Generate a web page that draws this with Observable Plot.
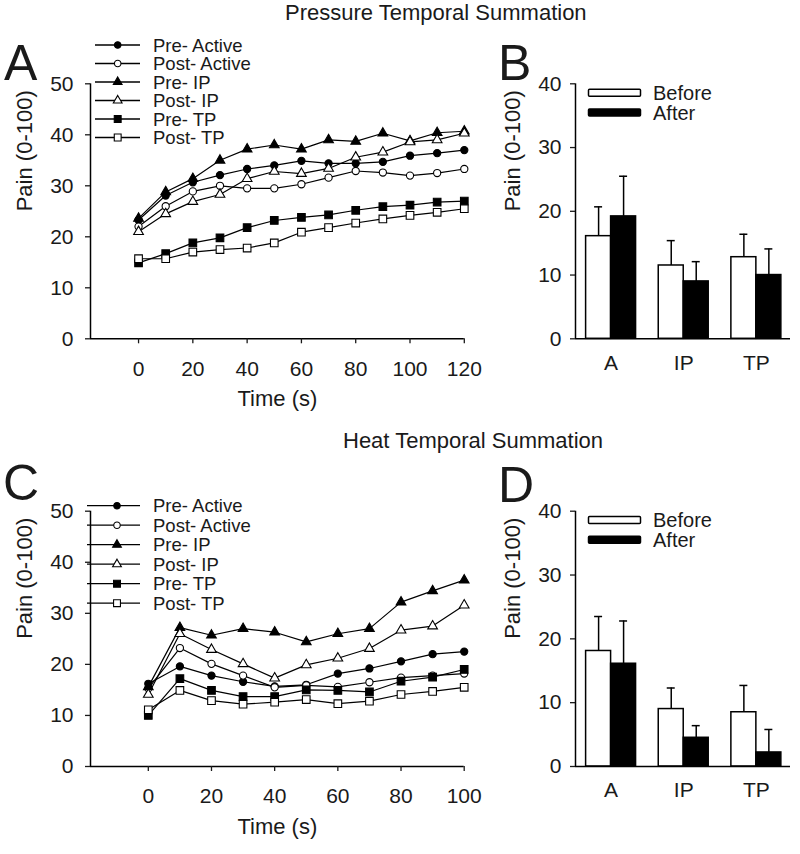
<!DOCTYPE html>
<html>
<head>
<meta charset="utf-8">
<script src="https://cdn.jsdelivr.net/npm/d3@7"></script>
<script src="https://cdn.jsdelivr.net/npm/@observablehq/plot@0.6"></script>
<style>
  html, body { margin: 0; padding: 0; background: #fff; }
  #root { position: relative; width: 800px; height: 854px; overflow: hidden; background: #fff;
          font-family: "Liberation Sans", Arial, Helvetica, sans-serif; }
</style>
</head>
<body>
<div id="root"></div>
<script>
// ---------------- data ----------------
const seriesNames = ["Pre- Active", "Post- Active", "Pre- IP", "Post- IP", "Pre- TP", "Post- TP"];
const seriesSymbols = ["circle", "circle", "triangle", "triangle", "square", "square"];
const seriesFilled = [true, false, true, false, true, false];

// Panel A: pressure temporal summation (0-120 s)
const timePressure = [0, 10, 20, 30, 40, 50, 60, 70, 80, 90, 100, 110, 120];
const pressurePreActive  = [23.3, 28.1, 30.7, 32.1, 33.3, 34.0, 34.9, 34.4, 34.4, 34.7, 35.9, 36.4, 37.0];
const pressurePostActive = [22.0, 26.0, 28.9, 30.0, 29.5, 29.5, 30.3, 31.6, 32.9, 32.6, 32.0, 32.5, 33.3];
const pressurePreIP      = [23.6, 28.8, 31.4, 35.0, 37.2, 38.0, 37.2, 39.0, 38.7, 40.3, 38.8, 40.4, 40.7];
const pressurePostIP     = [21.0, 24.5, 26.9, 28.3, 31.4, 32.8, 32.4, 33.4, 35.6, 36.6, 38.6, 39.0, 40.3];
const pressurePreTP      = [14.9, 16.7, 18.8, 19.8, 21.8, 23.2, 23.8, 24.3, 25.2, 25.9, 26.2, 26.8, 27.0];
const pressurePostTP     = [15.7, 15.7, 17.0, 17.5, 17.8, 18.8, 20.9, 21.8, 22.7, 23.5, 24.2, 24.8, 25.5];

// Panel C: heat temporal summation (0-100 s)
const timeHeat = [0, 10, 20, 30, 40, 50, 60, 70, 80, 90, 100];
const heatPreActive  = [16.2, 19.6, 17.8, 16.6, 15.7, 16.0, 18.2, 19.2, 20.6, 22.0, 22.5];
const heatPostActive = [15.3, 23.2, 20.1, 17.8, 15.5, 15.9, 15.6, 16.5, 17.4, 17.8, 18.2];
const heatPreIP      = [15.6, 27.2, 25.7, 27.0, 26.3, 24.4, 26.0, 27.0, 32.2, 34.4, 36.5];
const heatPostIP     = [14.1, 26.0, 22.9, 20.1, 17.3, 19.9, 21.2, 23.1, 26.7, 27.5, 31.6];
const heatPreTP      = [10.0, 17.2, 14.9, 13.7, 13.7, 15.0, 14.9, 14.6, 16.7, 17.5, 19.0];
const heatPostTP     = [11.1, 14.9, 12.9, 12.2, 12.6, 13.1, 12.3, 12.8, 14.1, 14.7, 15.5];

// Tick labels
const pressureTimeTicks = [0, 20, 40, 60, 80, 100, 120];
const heatTimeTicks = [0, 20, 40, 60, 80, 100];
const painTicksLine = [0, 10, 20, 30, 40, 50];
const painTicksBar = [0, 10, 20, 30, 40];

// Panels B and D: bars (mean, error)
const barCategories = ["A", "IP", "TP"];
const barLegend = ["Before", "After"];
const pressureBefore    = [16.1, 11.5, 12.8];
const pressureBeforeErr = [4.6, 3.9, 3.6];
const pressureAfter     = [19.2, 9.0, 10.0];
const pressureAfterErr  = [6.3, 3.1, 4.1];
const heatBefore    = [18.1, 9.0, 8.5];
const heatBeforeErr = [5.4, 3.3, 4.2];
const heatAfter     = [16.1, 4.5, 2.2];
const heatAfterErr  = [6.7, 1.9, 3.6];

// ---------------- layout helpers ----------------
const FONT = '"Liberation Sans", Arial, Helvetica, sans-serif';
const INK = "#1a1a1a";
const root = document.getElementById("root");
const symbolRadius = {circle: 3.6, triangle: 3.6, square: 4.3};
const baseStyle = {fontFamily: FONT, fontSize: "21px", color: INK, background: "transparent", overflow: "visible"};

function place(el, left, top) {
  el.style.position = "absolute";
  el.style.left = left + "px";
  el.style.top = top + "px";
  root.appendChild(el);
}

function linePanel(cfg) {
  const {time, values, xMin, xMax, xTicks, left, top, width, height, mTop, mBottom, mLeft, mRight} = cfg;
  const rows = values.flatMap((vals, s) => vals.map((v, i) => ({s, t: time[i], v})));
  const marks = [
    Plot.ruleY([0], {stroke: "#000", strokeWidth: 1.5}),
    Plot.ruleX([xMin], {stroke: "#000", strokeWidth: 1.5}),
    Plot.axisY({ticks: painTicksLine, tickSize: 5, tickPadding: 12, label: null, strokeWidth: 1.3}),
    Plot.axisX({ticks: xTicks, tickSize: 5, tickPadding: 17, label: null, strokeWidth: 1.3}),
    Plot.text(["Time (s)"], {text: d => d, frameAnchor: "bottom", dy: 67, fontSize: 22}),
    Plot.text(["Pain (0-100)"], {text: d => d, frameAnchor: "left", dx: -66, rotate: -90, fontSize: 22})
  ];
  values.forEach((_, s) => marks.push(
    Plot.line(rows.filter(r => r.s === s), {x: "t", y: "v", stroke: "#000", strokeWidth: 1.2})
  ));
  values.forEach((_, s) => marks.push(
    Plot.dot(rows.filter(r => r.s === s), {
      x: "t", y: "v", symbol: seriesSymbols[s], r: symbolRadius[seriesSymbols[s]],
      fill: seriesFilled[s] ? "#000" : "#fff", stroke: "#000", strokeWidth: 1.1
    })
  ));
  const svg = Plot.plot({
    width, height, marginTop: mTop, marginBottom: mBottom, marginLeft: mLeft, marginRight: mRight,
    x: {domain: [xMin, xMax]},
    y: {domain: [0, 50]},
    style: baseStyle,
    marks
  });
  place(svg, left, top);
}

function barPanel(cfg) {
  const {before, beforeErr, after, afterErr, left, top, width, height, mTop, mBottom, mLeft, mRight} = cfg;
  const rows = barCategories.map((c, i) => ({
    i, c,
    before: before[i], beforeTop: before[i] + beforeErr[i],
    after: after[i], afterTop: after[i] + afterErr[i]
  }));
  const bw = 0.344, cap = 0.055, xMin = -0.49, xMax = 2.47;
  const svg = Plot.plot({
    width, height, marginTop: mTop, marginBottom: mBottom, marginLeft: mLeft, marginRight: mRight,
    x: {domain: [xMin, xMax]},
    y: {domain: [0, 40]},
    style: baseStyle,
    marks: [
      Plot.rect(rows, {x1: d => d.i - bw, x2: d => d.i, y1: 0, y2: "before", fill: "#fff", stroke: "#000", strokeWidth: 1.5}),
      Plot.rect(rows, {x1: d => d.i, x2: d => d.i + bw, y1: 0, y2: "after", fill: "#000", stroke: "#000", strokeWidth: 1.5}),
      Plot.ruleX(rows, {x: d => d.i - bw / 2, y1: "before", y2: "beforeTop", stroke: "#000", strokeWidth: 1.5}),
      Plot.ruleY(rows, {y: "beforeTop", x1: d => d.i - bw / 2 - cap, x2: d => d.i - bw / 2 + cap, stroke: "#000", strokeWidth: 1.5}),
      Plot.ruleX(rows, {x: d => d.i + bw / 2, y1: "after", y2: "afterTop", stroke: "#000", strokeWidth: 1.5}),
      Plot.ruleY(rows, {y: "afterTop", x1: d => d.i + bw / 2 - cap, x2: d => d.i + bw / 2 + cap, stroke: "#000", strokeWidth: 1.5}),
      Plot.ruleY([0], {stroke: "#000", strokeWidth: 1.5}),
      Plot.ruleX([xMin], {stroke: "#000", strokeWidth: 1.5}),
      Plot.axisY({ticks: painTicksBar, tickSize: 5, tickPadding: 9, label: null, strokeWidth: 1.3}),
      Plot.axisX({ticks: barCategories.map((_, i) => i), tickFormat: i => barCategories[i], tickSize: 0, tickPadding: 16, label: null}),
      Plot.text(["Pain (0-100)"], {text: d => d, frameAnchor: "left", dx: -63, rotate: -90, fontSize: 22})
    ]
  });
  place(svg, left, top);
}

// ---------------- panels ----------------
linePanel({
  time: timePressure,
  values: [pressurePreActive, pressurePostActive, pressurePreIP, pressurePostIP, pressurePreTP, pressurePostTP],
  xMin: -17.7, xMax: 120, xTicks: pressureTimeTicks,
  left: 0, top: 0, width: 480, height: 420, mTop: 83.3, mBottom: 81.7, mLeft: 90, mRight: 16.2
});
barPanel({
  before: pressureBefore, beforeErr: pressureBeforeErr, after: pressureAfter, afterErr: pressureAfterErr,
  left: 480, top: 0, width: 320, height: 420, mTop: 83.3, mBottom: 81.7, mLeft: 95, mRight: 10
});
linePanel({
  time: timeHeat,
  values: [heatPreActive, heatPostActive, heatPreIP, heatPostIP, heatPreTP, heatPostTP],
  xMin: -18.3, xMax: 100, xTicks: heatTimeTicks,
  left: 0, top: 430, width: 480, height: 424, mTop: 80.7, mBottom: 88, mLeft: 90, mRight: 16.3
});
barPanel({
  before: heatBefore, beforeErr: heatBeforeErr, after: heatAfter, afterErr: heatAfterErr,
  left: 480, top: 430, width: 320, height: 424, mTop: 80.7, mBottom: 88, mLeft: 95, mRight: 10
});

// ---------------- overlay: titles, panel letters, legends ----------------
const overlay = d3.select(root).append("svg")
  .attr("width", 800).attr("height", 854)
  .style("position", "absolute").style("left", "0px").style("top", "0px")
  .style("pointer-events", "none")
  .attr("font-family", FONT).attr("fill", INK);

overlay.append("text").attr("x", 285).attr("y", 20).attr("font-size", 22).text("Pressure Temporal Summation");
overlay.append("text").attr("x", 343).attr("y", 448).attr("font-size", 22).text("Heat Temporal Summation");

[["A", 4, 80], ["B", 498, 80], ["C", 3, 500], ["D", 498, 502]].forEach(([t, x, y]) => {
  overlay.append("text").attr("x", x).attr("y", y).attr("font-size", 50).text(t);
});

const d3Sym = {circle: d3.symbolCircle, triangle: d3.symbolTriangle, square: d3.symbolSquare};
function lineLegend(x0, x1, xm, xt, y0, dy) {
  const g = overlay.append("g");
  seriesNames.forEach((name, i) => {
    const y = y0 + i * dy;
    g.append("line").attr("x1", x0).attr("x2", x1).attr("y1", y).attr("y2", y)
      .attr("stroke", "#000").attr("stroke-width", 1.3);
    const r = symbolRadius[seriesSymbols[i]] * 0.9;
    g.append("path").attr("d", d3.symbol(d3Sym[seriesSymbols[i]], Math.PI * r * r)())
      .attr("transform", `translate(${xm},${y})`)
      .attr("fill", seriesFilled[i] ? "#000" : "#fff").attr("stroke", "#000").attr("stroke-width", 1.1);
    g.append("text").attr("x", xt).attr("y", y).attr("dy", "0.36em").attr("font-size", 18.5)
      .attr("textLength", null).text(name);
  });
}
lineLegend(95, 140, 117.7, 153, 45, 18.5);
lineLegend(87, 140, 117, 153, 505.7, 19.5);

function barLegendDraw(yBefore, yAfter) {
  const g = overlay.append("g");
  [[yBefore, "#fff"], [yAfter, "#000"]].forEach(([y, fill], i) => {
    g.append("rect").attr("x", 588.5).attr("y", y - 3.5).attr("width", 52).attr("height", 7)
      .attr("rx", 1).attr("fill", fill).attr("stroke", "#000").attr("stroke-width", 1.5);
    g.append("text").attr("x", 653).attr("y", y).attr("dy", "0.36em").attr("font-size", 20).text(barLegend[i]);
  });
}
barLegendDraw(92.8, 112.5);
barLegendDraw(520, 539.7);
</script>
</body>
</html>
